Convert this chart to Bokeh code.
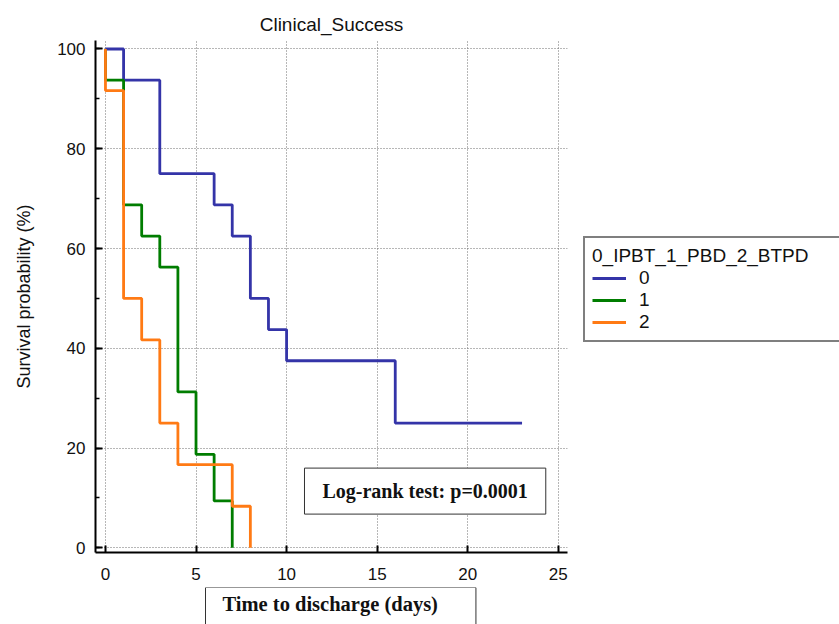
from bokeh.plotting import figure
from bokeh.layouts import row, column
from bokeh.models import Range1d, SingleIntervalTicker, Legend, LegendItem, Label
from bokeh.embed import file_html
from bokeh.resources import INLINE

# ---- data ----
chart_title = "Clinical_Success"
x_label = "Time to discharge (days)"
y_label = "Survival probability (%)"
legend_title = "0_IPBT_1_PBD_2_BTPD"
group_names = ["0", "1", "2"]
colors = ["#3434a8", "#007d00", "#ff7a14"]

g0_time = [0, 1, 3, 6, 7, 8, 9, 10, 16, 23]
g0_surv = [100, 93.75, 75, 68.75, 62.5, 50, 43.75, 37.5, 25, 25]
g1_time = [0, 0, 1, 2, 3, 4, 5, 6, 7]
g1_surv = [100, 93.75, 68.75, 62.5, 56.25, 31.25, 18.75, 9.4, 0]
g2_time = [0, 0, 1, 2, 3, 4, 7, 8]
g2_surv = [100, 91.67, 50, 41.67, 25, 16.67, 8.33, 0]
logrank_text = "Log-rank test: p=0.0001"

times = [g0_time, g1_time, g2_time]
survs = [g0_surv, g1_surv, g2_surv]

SANS = "Liberation Sans"
SERIF = "Liberation Serif"
TXT = "#111111"

# ---------------- main plot ----------------
p = figure(width=575, height=587, output_backend="svg", toolbar_location=None,
           x_range=Range1d(-0.55, 25.51), y_range=Range1d(-0.94, 101.7),
           min_border_left=95, min_border_right=8, min_border_top=40,
           min_border_bottom=35, background_fill_color="white",
           border_fill_color="white")
p.outline_line_color = None

p.title.text = chart_title
p.title.align = "center"
p.title.text_font = SANS
p.title.text_font_size = "19px"
p.title.text_font_style = "normal"
p.title.text_color = TXT
p.title.standoff = 12

p.xaxis.ticker = SingleIntervalTicker(interval=5, num_minor_ticks=0)
p.yaxis.ticker = SingleIntervalTicker(interval=20, num_minor_ticks=2)
for ax in (p.xaxis[0], p.yaxis[0]):
    ax.axis_line_color = "black"
    ax.axis_line_width = 2
    ax.major_tick_in = 7
    ax.major_tick_out = 0
    ax.major_tick_line_width = 2
    ax.major_tick_line_color = "black"
    ax.minor_tick_in = 4
    ax.minor_tick_out = 0
    ax.minor_tick_line_width = 1.5
    ax.minor_tick_line_color = "black"
    ax.major_label_text_font = SANS
    ax.major_label_text_font_size = "17px"
    ax.major_label_text_color = TXT
p.xaxis.minor_tick_line_color = None
p.xaxis.major_label_standoff = 15
p.yaxis.major_label_standoff = 10
p.yaxis.axis_label = y_label
p.yaxis.axis_label_text_font = SANS
p.yaxis.axis_label_text_font_size = "18px"
p.yaxis.axis_label_text_font_style = "normal"
p.yaxis.axis_label_text_color = TXT
p.yaxis.axis_label_standoff = 20

for g in (p.xgrid[0], p.ygrid[0]):
    g.grid_line_color = "#6e6e6e"
    g.grid_line_dash = "1 2"
    g.grid_line_width = 1

for t, s, c in zip(times, survs, colors):
    p.step(t, s, mode="after", line_width=2.8, line_color=c)

logrank = Label(x=17.65, y=11.37, text=logrank_text, text_align="center",
                text_baseline="middle", text_font=SERIF,
                text_font_size="20px", text_font_style="bold", text_color=TXT,
                background_fill_color="white", border_line_color="#333333",
                border_line_width=1,
                padding=dict(left=18, right=18, top=12, bottom=12))
p.add_layout(logrank)

# ---------------- boxed x-axis label strip (frame aligned to 95..567 px) ----------------
xl = figure(width=575, height=37, output_backend="svg", toolbar_location=None,
            x_range=Range1d(95, 567), y_range=Range1d(0, 37),
            min_border=0, background_fill_color="white",
            border_fill_color="white")
xl.axis.visible = False
xl.grid.visible = False
xl.outline_line_color = None
xlab = Label(x=205, y=37, text=x_label, text_align="left", text_baseline="top",
             text_font=SERIF, text_font_size="20.5px", text_font_style="bold",
             text_color=TXT, background_fill_color="white",
             border_line_color="#333333", border_line_width=1,
             padding=dict(left=17, right=38, top=5, bottom=20))
xl.add_layout(xlab)

# ---------------- legend panel ----------------
lg = figure(width=264, height=624, output_backend="svg", toolbar_location=None,
            x_range=Range1d(1000, 1001), y_range=Range1d(1000, 1001),
            min_border=0, background_fill_color="white",
            border_fill_color="white")
lg.axis.visible = False
lg.grid.visible = False
lg.outline_line_color = None
items = []
for name, t, s, c in zip(group_names, times, survs, colors):
    r = lg.step(t, s, mode="after", line_width=2.8, line_color=c)
    items.append(LegendItem(label=name, renderers=[r]))

legend = Legend(items=items, location=(8, 282), title=legend_title,
                title_text_font=SANS, title_text_font_size="19px",
                title_text_font_style="normal", title_text_color=TXT,
                label_text_font=SANS, label_text_font_size="19px",
                label_text_color=TXT, glyph_width=34, glyph_height=20,
                label_height=20, label_width=211, label_standoff=13,
                spacing=0, padding=7, margin=0, title_standoff=0,
                border_line_color="black", border_line_width=2,
                background_fill_color="white", background_fill_alpha=1.0)
lg.add_layout(legend)

layout = row(column(p, xl, spacing=0), lg, spacing=0)
open("out.html", "w").write(file_html(layout, INLINE))
